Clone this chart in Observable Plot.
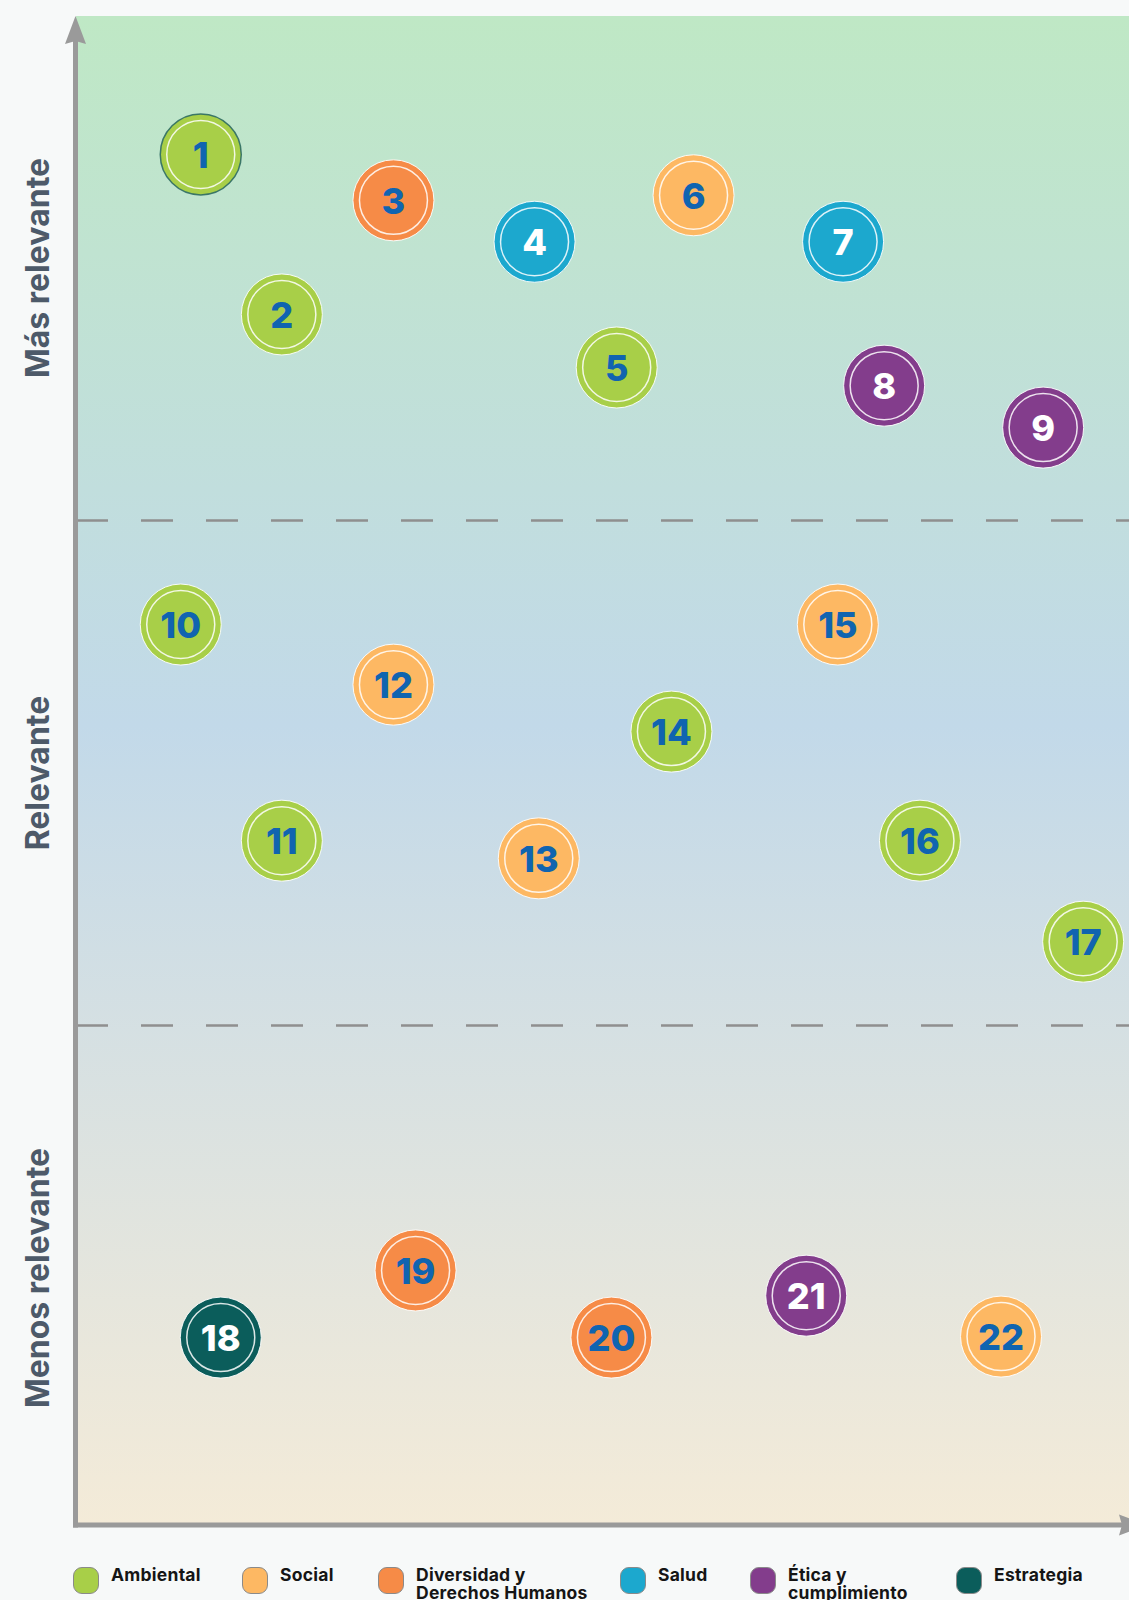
<!DOCTYPE html>
<html>
<head>
<meta charset="utf-8">
<script src="https://cdn.jsdelivr.net/npm/d3@7"></script>
<script src="https://cdn.jsdelivr.net/npm/@observablehq/plot@0.6"></script>
<style>
  html, body { margin: 0; padding: 0; background: #f7f9f9; overflow: hidden; }
  #chart { position: relative; width: 1129px; }
  #chart svg { display: block; }
  #legend { position: relative; width: 1129px; height: 60px; margin-top: 10px; font-family: Inter, "Open Sans", sans-serif; }
  .item { position: absolute; top: 0; display: flex; align-items: flex-start; }
  .sw { width: 26px; height: 27px; border-radius: 9px; border: 1px solid #8a8a8a; box-sizing: border-box; margin-top: 1px; }
  .lab { margin-left: 12px; font-weight: 700; font-size: 17.5px; line-height: 18px; color: #151515; letter-spacing: 0.25px; }
</style>
</head>
<body>
<div id="chart"></div>
<div id="legend"></div>
<script>
// ---- data ----
const categories = ["Ambiental", "Social", "Diversidad y Derechos Humanos", "Salud", "Ética y cumplimiento", "Estrategia"];
const topicIds = [1, 2, 3, 4, 5, 6, 7, 8, 9, 10, 11, 12, 13, 14, 15, 16, 17, 18, 19, 20, 21, 22];
const topicCategory = [
  "Ambiental", "Ambiental", "Diversidad y Derechos Humanos", "Salud", "Ambiental", "Social",
  "Salud", "Ética y cumplimiento", "Ética y cumplimiento", "Ambiental", "Ambiental", "Social",
  "Social", "Ambiental", "Social", "Ambiental", "Ambiental", "Estrategia",
  "Diversidad y Derechos Humanos", "Diversidad y Derechos Humanos", "Ética y cumplimiento", "Social"
];
const xValues = [11.8, 19.5, 30.1, 43.5, 51.3, 58.6, 72.8, 76.7, 91.8, 9.9, 19.5, 30.1, 43.9, 56.5, 72.3, 80.1, 95.6, 13.7, 32.2, 50.8, 69.3, 87.8];
const yValues = [2.725, 2.408, 2.634, 2.552, 2.303, 2.644, 2.552, 2.267, 2.184, 1.794, 1.366, 1.675, 1.331, 1.582, 1.794, 1.366, 1.166, 0.382, 0.515, 0.382, 0.465, 0.384];
const levelLabels = ["Más relevante", "Relevante", "Menos relevante"];
const levelCenters = [2.5, 1.5, 0.5];
const levelBreaks = [1, 2];
const legendLines = [["Ambiental"], ["Social"], ["Diversidad y", "Derechos Humanos"], ["Salud"], ["Ética y", "cumplimiento"], ["Estrategia"]];

// ---- styles ----
const catColors = ["#a8cf48", "#fdb863", "#f68b47", "#1ca8ce", "#833d8c", "#0b5d5b"];
const whiteText = new Set(["Salud", "Ética y cumplimiento", "Estrategia"]);
const legendLeft = [73, 242, 378, 620, 750, 956];

const topics = topicIds.map((id, i) => ({id, cat: topicCategory[i], x: xValues[i], y: yValues[i]}));
const levels = levelLabels.map((t, i) => ({t, y: levelCenters[i]}));

const AXIS_Y = 1525; // bottom edge of the drawing area (px)

function background(index, scales, values, dims) {
  const {marginLeft: l, marginTop: t, width: w} = dims;
  const g = d3.create("svg:g");
  const defs = g.append("defs");
  const lg = defs.append("linearGradient").attr("id", "bgGrad").attr("x1", 0).attr("x2", 0).attr("y1", 0).attr("y2", 1);
  lg.append("stop").attr("offset", "0%").attr("stop-color", "#bfe8c5");
  lg.append("stop").attr("offset", "47%").attr("stop-color", "#c2d9e9");
  lg.append("stop").attr("offset", "100%").attr("stop-color", "#f4ebd8");
  g.append("rect").attr("x", l).attr("y", t + 1).attr("width", w - l).attr("height", AXIS_Y - t - 1).attr("fill", "url(#bgGrad)");
  return g.node();
}

function axes(index, scales, values, dims) {
  const {marginLeft: l, marginTop: t, width: w} = dims;
  const g = d3.create("svg:g");
  const col = "#9a9a9a";
  const x0 = l - 0.5, yb = AXIS_Y, tt = t + 1;
  g.append("line").attr("x1", x0).attr("x2", x0).attr("y1", yb + 2.5).attr("y2", tt + 24).attr("stroke", col).attr("stroke-width", 5);
  g.append("path").attr("d", `M${x0},${tt} L${x0 + 10.5},${tt + 28} L${x0},${tt + 25} L${x0 - 10.5},${tt + 28} Z`).attr("fill", col);
  g.append("line").attr("x1", x0 - 2.5).attr("x2", w - 4).attr("y1", yb).attr("y2", yb).attr("stroke", col).attr("stroke-width", 5);
  g.append("path").attr("d", `M${w + 18},${yb} L${w - 10},${yb - 10.5} L${w - 7},${yb} L${w - 10},${yb + 10.5} Z`).attr("fill", col);
  return g.node();
}

const chart = Plot.plot({
  width: 1129,
  height: 1556,
  marginLeft: 76,
  marginRight: 0,
  marginTop: 15,
  marginBottom: 26,
  x: {domain: [0, 100], axis: null},
  y: {domain: [0, 3], axis: null},
  color: {domain: categories, range: catColors},
  style: {background: "transparent", overflow: "visible"},
  marks: [
    background,
    Plot.ruleY(levelBreaks, {stroke: "#8f8f8f", strokeWidth: 2.5, strokeDasharray: "32,33"}),
    axes,
    Plot.text(levels, {
      y: "y", text: "t", frameAnchor: "left", textAnchor: "middle", dx: -38, rotate: -90,
      fontSize: 32, fontWeight: 700, fill: "#4d5a69",
      fontFamily: "Inter, 'Open Sans', sans-serif"
    }),
    Plot.dot(topics, {
      x: "x", y: "y", r: 40.5, fill: "cat",
      stroke: d => d.id === 1 ? "#2e6c62" : "#ffffff",
      strokeWidth: d => d.id === 1 ? 1.5 : 1, strokeOpacity: 0.9
    }),
    Plot.dot(topics, {x: "x", y: "y", r: 34, fill: "none", stroke: "#ffffff", strokeWidth: 1.5, strokeOpacity: 0.85}),
    Plot.text(topics, {
      x: "x", y: "y", text: d => String(d.id), dy: 2,
      fontSize: 36, fontWeight: 800,
      fill: d => whiteText.has(d.cat) ? "#ffffff" : "#1064b0",
      fontFamily: "Inter, 'Open Sans', sans-serif"
    })
  ]
});
document.getElementById("chart").appendChild(chart);

// legend
const legend = document.getElementById("legend");
categories.forEach((c, i) => {
  const item = document.createElement("div");
  item.className = "item";
  item.style.left = legendLeft[i] + "px";
  const sw = document.createElement("div");
  sw.className = "sw";
  sw.style.background = catColors[i];
  const lab = document.createElement("div");
  lab.className = "lab";
  lab.innerHTML = legendLines[i].join("<br>");
  item.appendChild(sw);
  item.appendChild(lab);
  legend.appendChild(item);
});
</script>
</body>
</html>
